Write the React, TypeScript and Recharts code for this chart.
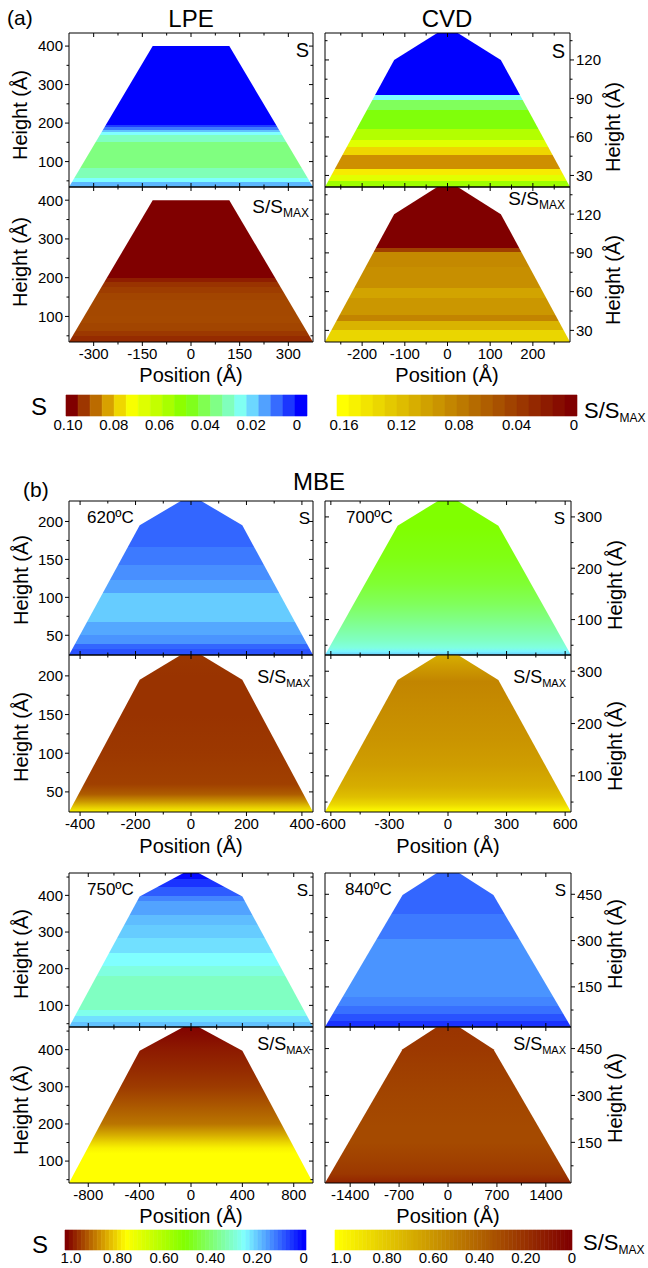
import React from 'react';
import { ComposedChart, Area, XAxis, YAxis, ReferenceArea } from 'recharts';

// ---- crystal outlines: position (Å) and height (Å) of the section corners
const lpeX = [-376, -118, 118, 376];
const lpeH = [34, 400, 400, 34];
const cvdX = [-287, -125, 0, 125, 287];
const cvdH = [21, 120, 146, 120, 21];
const m620X = [-440, -185, 0, 185, 440];
const m620H = [24, 195, 235, 195, 24];
const m700X = [-630, -258, 0, 258, 630];
const m700H = [31, 283, 343, 283, 31];
const m750X = [-950, -400, 0, 400, 950];
const m750H = [41, 397, 472, 397, 41];
const m840X = [-1760, -650, 0, 650, 1760];
const m840H = [20, 448, 542, 448, 20];

// ---- layered values, bottom -> top (band edges in Å, one value per band)
const lpeSEdges = [34, 46, 58, 84, 150, 168, 176, 183, 189, 194, 400];
const lpeS = [0.018, 0.025, 0.032, 0.0375, 0.031, 0.025, 0.019, 0.012, 0.006, 0];
const lpeREdges = [34, 50, 62, 83, 100, 143, 160, 175, 190, 200, 400];
const lpeR = [0.027, 0.035, 0.043, 0.046, 0.045, 0.043, 0.038, 0.032, 0.019, 0];

const cvdSEdges = [21, 26, 30, 35, 46, 52, 58, 66, 81, 89, 93, 146];
const cvdS = [0.056, 0.069, 0.077, 0.086, 0.079, 0.069, 0.06, 0.049, 0.041, 0.025, 0];
const cvdREdges = [21, 30, 37, 42, 55, 63, 79, 91, 94, 146];
const cvdR = [0.134, 0.112, 0.083, 0.095, 0.103, 0.09, 0.086, 0.04, 0];

const m620SEdges = [24, 32, 38, 51, 67, 106, 123, 142, 166, 235];
const m620S = [0.08, 0.1, 0.145, 0.165, 0.2, 0.16, 0.14, 0.12, 0.1];
const m620RHeights = [24, 30, 37, 47, 60, 100, 150, 200, 235];
const m620R = [0.95, 0.8, 0.6, 0.36, 0.25, 0.22, 0.2, 0.2, 0.22];

const m700SHeights = [31, 38, 45, 60, 80, 100, 130, 170, 220, 280, 343];
const m700S = [0.2, 0.24, 0.28, 0.31, 0.34, 0.37, 0.41, 0.45, 0.48, 0.5, 0.5];
const m700RHeights = [31, 36, 45, 60, 80, 120, 170, 230, 280, 300, 343];
const m700R = [1.0, 0.95, 0.85, 0.75, 0.68, 0.62, 0.58, 0.55, 0.52, 0.58, 0.72];

const m750SEdges = [41, 56, 70, 88, 180, 207, 243, 284, 320, 347, 384, 397, 424, 445, 472];
const m750S = [0.19, 0.22, 0.27, 0.31, 0.28, 0.25, 0.22, 0.2, 0.185, 0.16, 0.13, 0.09, 0.05, 0.01];
const m750RHeights = [41, 120, 135, 150, 170, 200, 250, 300, 350, 400, 440, 472];
const m750R = [1, 1, 0.95, 0.84, 0.68, 0.46, 0.34, 0.23, 0.16, 0.1, 0.04, 0];

const m840SEdges = [20, 39, 62, 89, 116, 304, 385, 542];
const m840S = [0.05, 0.08, 0.11, 0.13, 0.145, 0.12, 0.1];
const m840RHeights = [20, 30, 50, 100, 150, 200, 300, 400, 450, 542];
const m840R = [0.12, 0.17, 0.22, 0.26, 0.29, 0.29, 0.27, 0.24, 0.22, 0.2];

// ---- axis ticks
const lpeXMajor = [-300, -150, 0, 150, 300];
const lpeXMinor = [-225, -75, 75, 225];
const lpeYMajor = [100, 200, 300, 400];
const lpeYMinor = [50, 150, 250, 350];
const cvdXMajor = [-200, -100, 0, 100, 200];
const cvdXMinor = [-250, -150, -50, 50, 150, 250];
const cvdYMajor = [30, 60, 90, 120];
const cvdYMinor = [45, 75, 105, 135];
const m620XMajor = [-400, -200, 0, 200, 400];
const m620XMinor = [-300, -100, 100, 300];
const m620YMajor = [50, 100, 150, 200];
const m620YMinor = [75, 125, 175];
const m700XMajor = [-600, -300, 0, 300, 600];
const m700XMinor = [-450, -150, 150, 450];
const m700YMajor = [100, 200, 300];
const m700YMinor = [50, 150, 250];
const m750XMajor = [-800, -400, 0, 400, 800];
const m750XMinor = [-600, -200, 200, 600];
const m750YMajor = [100, 200, 300, 400];
const m750YMinor = [50, 150, 250, 350, 450];
const m840XMajor = [-1400, -700, 0, 700, 1400];
const m840XMinor = [-1050, -350, 350, 1050];
const m840YMajor = [150, 300, 450];
const m840YMinor = [75, 225, 375];

// ---- colour bars
const cbSaTicks = [0.1, 0.08, 0.06, 0.04, 0.02, 0];
const cbSaLabels = ['0.10', '0.08', '0.06', '0.04', '0.02', '0'];
const cbRaTicks = [0.16, 0.12, 0.08, 0.04, 0];
const cbRaLabels = ['0.16', '0.12', '0.08', '0.04', '0'];
const cbBTicks = [1, 0.8, 0.6, 0.4, 0.2, 0];
const cbBLabels = ['1.0', '0.80', '0.60', '0.40', '0.20', '0'];

const FONT = '"Liberation Sans", Arial, Helvetica, sans-serif';

type Cmap = [number, string][];
const rainbow: Cmap = [
  [0, '#0000ff'], [0.25, '#80ffff'], [0.5, '#80ff00'], [0.75, '#ffff00'],
  [0.8, '#ebcc00'], [0.85, '#d49900'], [0.9, '#b86600'], [0.95, '#9c3300'], [1, '#800000'],
];
const heat: Cmap = [[0, '#800000'], [1, '#ffff00']];

const rgb = (c: string) => [1, 3, 5].map((i) => parseInt(c.slice(i, i + 2), 16));
function colorAt(cmap: Cmap, t: number) {
  const v = Math.max(0, Math.min(1, t));
  for (let i = 1; i < cmap.length; i++) {
    if (v <= cmap[i][0]) {
      const [a, ca] = cmap[i - 1];
      const [b, cb] = cmap[i];
      const f = (v - a) / (b - a);
      const A = rgb(ca), B = rgb(cb);
      return `rgb(${A.map((x, k) => Math.round(x + (B[k] - x) * f)).join(',')})`;
    }
  }
  return cmap[cmap.length - 1][1];
}

type Fill =
  | { kind: 'band'; edges: number[]; vals: number[]; vmax: number; cmap: Cmap }
  | { kind: 'smooth'; hs: number[]; vals: number[]; vmax: number; cmap: Cmap };

function gradientStops(fill: Fill, peak: number, base: number) {
  const off = (h: number) => Math.max(0, Math.min(1, (peak - h) / (peak - base)));
  const out: { o: number; c: string }[] = [];
  if (fill.kind === 'band') {
    for (let i = fill.vals.length - 1; i >= 0; i--) {
      const c = colorAt(fill.cmap, fill.vals[i] / fill.vmax);
      out.push({ o: off(fill.edges[i + 1]), c }, { o: off(fill.edges[i]), c });
    }
  } else {
    for (let i = fill.hs.length - 1; i >= 0; i--) {
      out.push({ o: off(fill.hs[i]), c: colorAt(fill.cmap, fill.vals[i] / fill.vmax) });
    }
  }
  return out;
}

type Side = 'top' | 'bottom' | 'left' | 'right';
const tickMaker = (side: Side, majors: number[], labelled: boolean, inward: boolean) => (props: any) => {
  const { x, y, payload } = props;
  const v = payload.value as number;
  const major = majors.includes(v);
  const len = major ? 4 : 2.5;
  const d = inward ? -1 : 1;
  let x2 = x;
  let y2 = y;
  if (side === 'bottom') y2 = y + d * len;
  if (side === 'top') y2 = y - d * len;
  if (side === 'left') x2 = x - d * len;
  if (side === 'right') x2 = x + d * len;
  let label = null;
  if (labelled && major) {
    const common = { fontSize: 15, fontFamily: FONT, fill: '#000' };
    if (side === 'bottom') label = <text x={x} y={y + 17} textAnchor="middle" {...common}>{v}</text>;
    if (side === 'left') label = <text x={x - 6} y={y} dy="0.36em" textAnchor="end" {...common}>{v}</text>;
    if (side === 'right') label = <text x={x + 6} y={y} dy="0.36em" textAnchor="start" {...common}>{v}</text>;
  }
  return (
    <g>
      <line x1={x} y1={y} x2={x2} y2={y2} stroke="#000" strokeWidth={1} />
      {label}
    </g>
  );
};

type Frame = { l: number; t: number; w: number; h: number };
interface PanelProps {
  id: string; frame: Frame; xs: number[]; hs: number[];
  xDomain: [number, number]; yDomain: [number, number];
  xMajor: number[]; xMinor: number[]; yMajor: number[]; yMinor: number[];
  showX: boolean; ySide: 'left' | 'right'; fill: Fill;
}

const frameLine = { stroke: '#000', strokeWidth: 1 };

// every axis gets 1px of room so Recharts still draws it; the frame lines then sit on the plot edges
const Panel = (p: PanelProps) => {
  const data = p.xs.map((x, i) => ({ x, h: p.hs[i] }));
  const stops = gradientStops(p.fill, Math.max(...p.hs), p.yDomain[0]);
  const xt = [...p.xMajor, ...p.xMinor].sort((a, b) => a - b);
  const yt = [...p.yMajor, ...p.yMinor].sort((a, b) => a - b);
  const axisCommon = { tickLine: false, tickSize: 0, tickMargin: 0, interval: 0 as const, allowDataOverflow: true, axisLine: frameLine };
  return (
    <div style={{ position: 'absolute', left: p.frame.l - 1, top: p.frame.t - 1 }}>
      <ComposedChart width={p.frame.w + 2} height={p.frame.h + 2} data={data} margin={{ top: 0, right: 0, bottom: 0, left: 0 }}>
        <defs>
          <linearGradient id={p.id} x1="0" y1="0" x2="0" y2="1">
            {stops.map((s, i) => <stop key={i} offset={s.o} stopColor={s.c} />)}
          </linearGradient>
        </defs>
        <Area xAxisId="b" yAxisId="l" dataKey="h" type="linear" stroke="none" fill={`url(#${p.id})`} fillOpacity={1}
          baseValue={p.yDomain[0]} dot={false} activeDot={false} isAnimationActive={false} />
        <XAxis xAxisId="b" orientation="bottom" type="number" dataKey="x" domain={p.xDomain} ticks={xt} height={1}
          {...axisCommon} tick={tickMaker('bottom', p.xMajor, p.showX, !p.showX)} />
        <XAxis xAxisId="t" orientation="top" type="number" dataKey="x" domain={p.xDomain} ticks={xt} height={1}
          {...axisCommon} tick={tickMaker('top', p.xMajor, false, true)} />
        <YAxis yAxisId="l" orientation="left" type="number" dataKey="h" domain={p.yDomain} ticks={yt} width={1}
          {...axisCommon} tick={tickMaker('left', p.yMajor, p.ySide === 'left', p.ySide !== 'left')} />
        <YAxis yAxisId="r" orientation="right" type="number" dataKey="h" domain={p.yDomain} ticks={yt} width={1}
          {...axisCommon} tick={tickMaker('right', p.yMajor, p.ySide === 'right', p.ySide !== 'right')} />
      </ComposedChart>
    </div>
  );
};

interface CbProps {
  l: number; t: number; w: number; h: number; range: [number, number]; bins: number;
  cmap: Cmap; ticks: number[]; labels: string[]; gap: number;
}
const Colorbar = (p: CbProps) => {
  const [lo, hi] = p.range;
  const step = (hi - lo) / p.bins;
  const cells = Array.from({ length: p.bins }, (_, i) => ({
    x1: hi - i * step, x2: hi - (i + 1) * step, c: colorAt(p.cmap, 1 - i / (p.bins - 1)),
  }));
  return (
    <div style={{ position: 'absolute', left: p.l - 20, top: p.t }}>
      <ComposedChart width={p.w + 40} height={p.h + 26} data={[{ v: lo, y: 0 }, { v: hi, y: 1 }]} margin={{ top: 0, right: 20, bottom: 0, left: 20 }}>
        <XAxis type="number" dataKey="v" domain={[lo, hi]} reversed allowDataOverflow ticks={p.ticks} interval={0} height={26}
          tickLine={false} axisLine={false} tickSize={0} tickMargin={p.gap}
          tick={{ fontSize: 15, fill: '#000', fontFamily: FONT }}
          tickFormatter={(v: number) => p.labels[p.ticks.indexOf(v)] ?? String(v)} />
        <YAxis type="number" dataKey="y" domain={[0, 1]} allowDataOverflow hide />
        {cells.map((c, i) => (
          <ReferenceArea key={i} x1={c.x1} x2={c.x2} fill={c.c} fillOpacity={1} stroke={c.c} strokeWidth={0.6} ifOverflow="visible" />
        ))}
      </ComposedChart>
    </div>
  );
};

const Ratio = ({ x, y, big, small, anchor = 'end' }: { x: number; y: number; big: number; small: number; anchor?: string }) => (
  <text x={x} y={y} fontSize={big} textAnchor={anchor as any} fontFamily={FONT}>
    S/S<tspan fontSize={small} dy={4}>MAX</tspan>
  </text>
);

const VLabel = ({ x, y }: { x: number; y: number }) => (
  <text x={x} y={y} fontSize={20} textAnchor="middle" dominantBaseline="central" transform={`rotate(-90 ${x} ${y})`} fontFamily={FONT}>
    Height (Å)
  </text>
);

const PosLabel = ({ x, y }: { x: number; y: number }) => (
  <text x={x} y={y} fontSize={20} textAnchor="middle" dominantBaseline="central" fontFamily={FONT}>
    Position (Å)
  </text>
);

export default function App() {
  const panels: PanelProps[] = [
    { id: 'lpeS', frame: { l: 69, t: 33, w: 244, h: 154 }, xs: lpeX, hs: lpeH, xDomain: [-376, 376], yDomain: [34, 434],
      xMajor: lpeXMajor, xMinor: lpeXMinor, yMajor: lpeYMajor, yMinor: lpeYMinor, showX: false, ySide: 'left',
      fill: { kind: 'band', edges: lpeSEdges, vals: lpeS, vmax: 0.1, cmap: rainbow } },
    { id: 'lpeR', frame: { l: 69, t: 187, w: 244, h: 155 }, xs: lpeX, hs: lpeH, xDomain: [-376, 376], yDomain: [34, 434],
      xMajor: lpeXMajor, xMinor: lpeXMinor, yMajor: lpeYMajor, yMinor: lpeYMinor, showX: true, ySide: 'left',
      fill: { kind: 'band', edges: lpeREdges, vals: lpeR, vmax: 0.16, cmap: heat } },
    { id: 'cvdS', frame: { l: 325, t: 33, w: 245, h: 154 }, xs: cvdX, hs: cvdH, xDomain: [-287, 287], yDomain: [21, 141],
      xMajor: cvdXMajor, xMinor: cvdXMinor, yMajor: cvdYMajor, yMinor: cvdYMinor, showX: false, ySide: 'right',
      fill: { kind: 'band', edges: cvdSEdges, vals: cvdS, vmax: 0.1, cmap: rainbow } },
    { id: 'cvdR', frame: { l: 325, t: 187, w: 245, h: 155 }, xs: cvdX, hs: cvdH, xDomain: [-287, 287], yDomain: [21, 141],
      xMajor: cvdXMajor, xMinor: cvdXMinor, yMajor: cvdYMajor, yMinor: cvdYMinor, showX: true, ySide: 'right',
      fill: { kind: 'band', edges: cvdREdges, vals: cvdR, vmax: 0.16, cmap: heat } },
    { id: 'm620S', frame: { l: 69, t: 501, w: 244, h: 154 }, xs: m620X, hs: m620H, xDomain: [-440, 440], yDomain: [24, 227],
      xMajor: m620XMajor, xMinor: m620XMinor, yMajor: m620YMajor, yMinor: m620YMinor, showX: false, ySide: 'left',
      fill: { kind: 'band', edges: m620SEdges, vals: m620S, vmax: 1, cmap: rainbow } },
    { id: 'm620R', frame: { l: 69, t: 655, w: 244, h: 157 }, xs: m620X, hs: m620H, xDomain: [-440, 440], yDomain: [24, 227],
      xMajor: m620XMajor, xMinor: m620XMinor, yMajor: m620YMajor, yMinor: m620YMinor, showX: true, ySide: 'left',
      fill: { kind: 'smooth', hs: m620RHeights, vals: m620R, vmax: 1, cmap: heat } },
    { id: 'm700S', frame: { l: 325, t: 501, w: 246, h: 154 }, xs: m700X, hs: m700H, xDomain: [-630, 630], yDomain: [31, 331],
      xMajor: m700XMajor, xMinor: m700XMinor, yMajor: m700YMajor, yMinor: m700YMinor, showX: false, ySide: 'right',
      fill: { kind: 'smooth', hs: m700SHeights, vals: m700S, vmax: 1, cmap: rainbow } },
    { id: 'm700R', frame: { l: 325, t: 655, w: 246, h: 157 }, xs: m700X, hs: m700H, xDomain: [-630, 630], yDomain: [31, 331],
      xMajor: m700XMajor, xMinor: m700XMinor, yMajor: m700YMajor, yMinor: m700YMinor, showX: true, ySide: 'right',
      fill: { kind: 'smooth', hs: m700RHeights, vals: m700R, vmax: 1, cmap: heat } },
    { id: 'm750S', frame: { l: 69, t: 873, w: 244, h: 154 }, xs: m750X, hs: m750H, xDomain: [-950, 950], yDomain: [41, 461],
      xMajor: m750XMajor, xMinor: m750XMinor, yMajor: m750YMajor, yMinor: m750YMinor, showX: false, ySide: 'left',
      fill: { kind: 'band', edges: m750SEdges, vals: m750S, vmax: 1, cmap: rainbow } },
    { id: 'm750R', frame: { l: 69, t: 1027, w: 244, h: 156 }, xs: m750X, hs: m750H, xDomain: [-950, 950], yDomain: [41, 461],
      xMajor: m750XMajor, xMinor: m750XMinor, yMajor: m750YMajor, yMinor: m750YMinor, showX: true, ySide: 'left',
      fill: { kind: 'smooth', hs: m750RHeights, vals: m750R, vmax: 1, cmap: heat } },
    { id: 'm840S', frame: { l: 325, t: 873, w: 246, h: 154 }, xs: m840X, hs: m840H, xDomain: [-1760, 1760], yDomain: [20, 519],
      xMajor: m840XMajor, xMinor: m840XMinor, yMajor: m840YMajor, yMinor: m840YMinor, showX: false, ySide: 'right',
      fill: { kind: 'band', edges: m840SEdges, vals: m840S, vmax: 1, cmap: rainbow } },
    { id: 'm840R', frame: { l: 325, t: 1027, w: 246, h: 156 }, xs: m840X, hs: m840H, xDomain: [-1760, 1760], yDomain: [20, 519],
      xMajor: m840XMajor, xMinor: m840XMinor, yMajor: m840YMajor, yMinor: m840YMinor, showX: true, ySide: 'right',
      fill: { kind: 'smooth', hs: m840RHeights, vals: m840R, vmax: 1, cmap: heat } },
  ];

  return (
    <div style={{ position: 'absolute', left: 0, top: 0, width: 648, height: 1268, background: '#fff', fontFamily: FONT }}>
      <style>{'.recharts-surface{overflow:visible}'}</style>
      {panels.map((p) => <Panel key={p.id} {...p} />)}

      <Colorbar l={66} t={395} w={241} h={21} range={[-0.0044, 0.1009]} bins={20} cmap={rainbow} ticks={cbSaTicks} labels={cbSaLabels} gap={3} />
      <Colorbar l={337} t={395} w={240} h={21} range={[-0.0021, 0.1649]} bins={20} cmap={heat} ticks={cbRaTicks} labels={cbRaLabels} gap={3} />
      <Colorbar l={65} t={1230} w={241} h={20} range={[-0.0099, 1.0258]} bins={60} cmap={rainbow} ticks={cbBTicks} labels={cbBLabels} gap={2} />
      <Colorbar l={335} t={1230} w={237} h={20} range={[0, 1.0255]} bins={60} cmap={heat} ticks={cbBTicks} labels={cbBLabels} gap={2} />

      <svg width={648} height={1268} style={{ position: 'absolute', left: 0, top: 0, pointerEvents: 'none' }}>
        <g fontFamily={FONT} fill="#000">
          <text x={7} y={25} fontSize={21}>(a)</text>
          <text x={191} y={27} fontSize={24} textAnchor="middle">LPE</text>
          <text x={447} y={27} fontSize={24} textAnchor="middle">CVD</text>
          <text x={23} y={497} fontSize={21}>(b)</text>
          <text x={319} y={490} fontSize={24} textAnchor="middle">MBE</text>

          <VLabel x={20} y={115} />
          <VLabel x={20} y={262} />
          <VLabel x={613} y={127} />
          <VLabel x={613} y={280} />
          <VLabel x={21} y={580} />
          <VLabel x={21} y={737} />
          <VLabel x={615} y={585} />
          <VLabel x={615} y={746} />
          <VLabel x={21} y={954} />
          <VLabel x={21} y={1110} />
          <VLabel x={615} y={944} />
          <VLabel x={615} y={1098} />

          <PosLabel x={191} y={375} />
          <PosLabel x={447} y={375} />
          <PosLabel x={191} y={846} />
          <PosLabel x={448} y={846} />
          <PosLabel x={191} y={1216} />
          <PosLabel x={448} y={1216} />

          <text x={309} y={57} fontSize={20} textAnchor="end">S</text>
          <text x={565} y={58} fontSize={20} textAnchor="end">S</text>
          <Ratio x={309} y={213} big={19} small={12} />
          <Ratio x={565} y={205} big={19} small={12} />

          <text x={87} y={523} fontSize={17}>620ºC</text>
          <text x={346} y={523} fontSize={17}>700ºC</text>
          <text x={310} y={524} fontSize={17} textAnchor="end">S</text>
          <text x={565} y={524} fontSize={17} textAnchor="end">S</text>
          <Ratio x={310} y={683} big={18} small={11} />
          <Ratio x={566} y={683} big={18} small={11} />

          <text x={87} y={895} fontSize={17}>750ºC</text>
          <text x={345} y={895} fontSize={17}>840ºC</text>
          <text x={308} y={896} fontSize={17} textAnchor="end">S</text>
          <text x={566} y={896} fontSize={17} textAnchor="end">S</text>
          <Ratio x={310} y={1050} big={18} small={11} />
          <Ratio x={566} y={1050} big={18} small={11} />

          <text x={39} y={415} fontSize={24} textAnchor="middle">S</text>
          <Ratio x={584} y={418} big={22} small={12} anchor="start" />
          <text x={40} y={1253} fontSize={24} textAnchor="middle">S</text>
          <Ratio x={583} y={1250} big={22} small={12} anchor="start" />
        </g>
      </svg>
    </div>
  );
}
